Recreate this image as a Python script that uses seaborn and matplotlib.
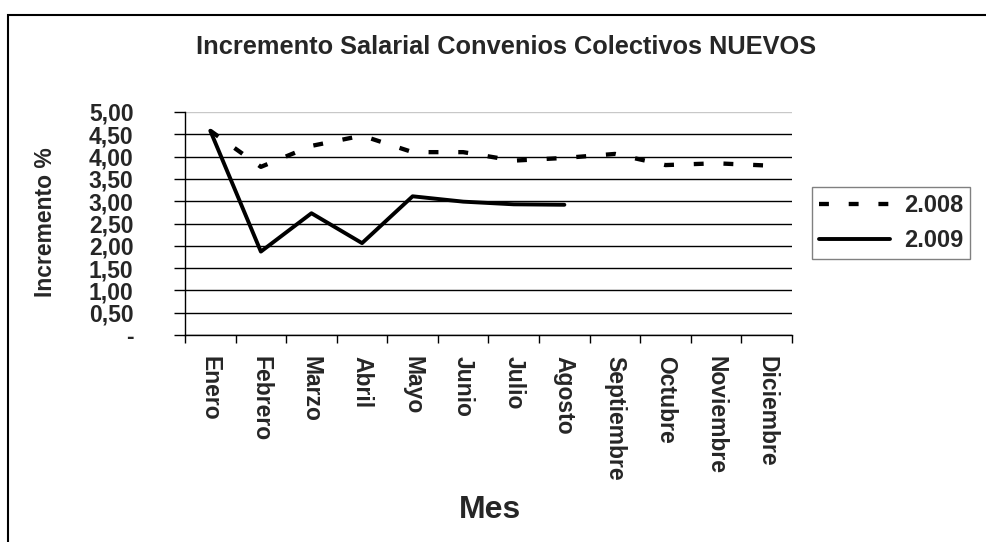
import matplotlib
matplotlib.use("Agg")
import matplotlib.pyplot as plt
from matplotlib.patches import Rectangle
import seaborn as sns
import pandas as pd

# -----------------------------
# Datos del gráfico
# -----------------------------
meses = ["Enero", "Febrero", "Marzo", "Abril", "Mayo", "Junio", "Julio",
         "Agosto", "Septiembre", "Octubre", "Noviembre", "Diciembre"]
inc_2008 = [4.58, 3.77, 4.24, 4.47, 4.10, 4.10, 3.91, 3.97, 4.06, 3.81, 3.85, 3.80]
inc_2009 = [4.58, 1.87, 2.73, 2.06, 3.11, 2.99, 2.93, 2.92]
y_ticks = [0, 0.5, 1.0, 1.5, 2.0, 2.5, 3.0, 3.5, 4.0, 4.5, 5.0]
y_labels = ["-", "0,50", "1,00", "1,50", "2,00", "2,50", "3,00", "3,50", "4,00", "4,50", "5,00"]

df08 = pd.DataFrame({"Mes": meses, "Incremento": inc_2008})
df09 = pd.DataFrame({"Mes": meses[:len(inc_2009)], "Incremento": inc_2009})

sns.set_style("white")
fuente = ["Liberation Sans", "DejaVu Sans"]
plt.rcParams["font.family"] = fuente
plt.rcParams["font.weight"] = "bold"

W, H = 987, 542
fig = plt.figure(figsize=(W / 100, H / 100), dpi=100)
ax = fig.add_axes([185 / W, 1 - 335 / H, (792 - 185) / W, (335 - 112) / H])

# Líneas
sns.lineplot(data=df08, x="Mes", y="Incremento", ax=ax, color="black", lw=3.1,
             linestyle=(0, (2.3, 4.6)), label="2.008", sort=False)
sns.lineplot(data=df09, x="Mes", y="Incremento", ax=ax, color="black", lw=2.8,
             label="2.009", sort=False)

# Ejes
ax.set_xlim(-0.5, len(meses) - 0.5)
ax.set_ylim(0, 5)
ax.set_yticks(y_ticks)
ax.set_yticklabels(y_labels, fontsize=16.5, fontweight="bold")
ax.tick_params(axis="y", length=8, width=1, color="black", direction="out", pad=29, left=True)

ax.set_xticks(range(len(meses)))
ax.set_xticklabels(meses, rotation=270, fontsize=16.5, fontweight="bold", va="top", ha="center")
ax.tick_params(axis="x", which="major", length=0, pad=15)
ax.set_xticks([i - 0.5 for i in range(len(meses) + 1)], minor=True)
ax.tick_params(axis="x", which="minor", length=6, width=1, color="black", direction="out", bottom=True)

ax.yaxis.grid(True, color="black", lw=1)
ax.get_ygridlines()[-1].set_color("#c8c8c8")
ax.set_axisbelow(True)
for lado in ["right", "top"]:
    ax.spines[lado].set_visible(False)
ax.spines["left"].set_color("black")
ax.spines["left"].set_linewidth(1)
ax.spines["bottom"].set_color("black")
ax.spines["bottom"].set_linewidth(1)

ax.set_xlabel("")
ax.set_ylabel("")
fig.text(46 / W, 1 - 222 / H, "Incremento %", rotation=90, fontsize=16.5,
         fontweight="bold", ha="center", va="center")
fig.text(490 / W, 1 - 510 / H, "Mes", fontsize=23, fontweight="bold", ha="center", va="center")
fig.text(506 / W, 1 - 47 / H, "Incremento Salarial Convenios Colectivos NUEVOS",
         fontsize=18.3, fontweight="bold", ha="center", va="center")

# Leyenda
ax.get_legend().remove()
handles, labels = ax.get_legend_handles_labels()
leg = fig.legend(handles, labels, loc="center left", bbox_to_anchor=(812 / W, 1 - 223 / H),
                 frameon=True, fancybox=False, edgecolor="#808080", framealpha=1,
                 fontsize=17, handlelength=3.0, handletextpad=0.6, labelspacing=0.5,
                 borderpad=0.3, borderaxespad=0)
for t in leg.get_texts():
    t.set_fontweight("bold")
leg.get_frame().set_linewidth(1)

# Marco exterior
fig.add_artist(Rectangle((8 / W, -0.1), 1.2, 1 - 15 / H + 0.1, transform=fig.transFigure,
                         fill=False, ec="black", lw=1.5))

fig.savefig("out.png", dpi=100)
